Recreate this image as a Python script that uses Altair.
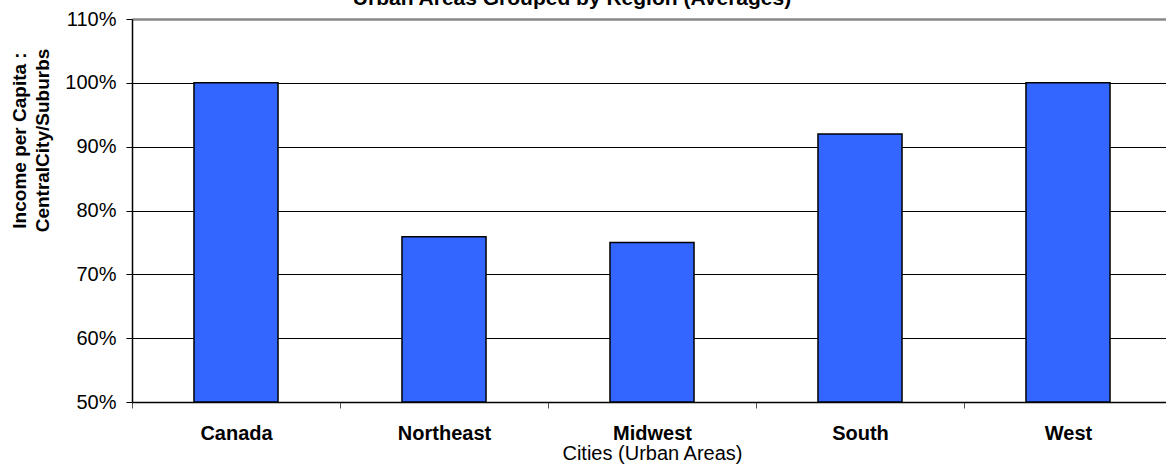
import altair as alt
import pandas as pd

# Central-city / suburb income ratio, averaged by region
regions = ["Canada", "Northeast", "Midwest", "South", "West"]
ratio_pct = [100.0, 75.9, 75.0, 92.0, 100.0]
y_ticks = [50, 60, 70, 80, 90, 100, 110]

chart_title = "Urban Areas Grouped by Region (Averages)"
y_title = ["Income per Capita :", "CentralCity/Suburbs"]
x_title = "Cities (Urban Areas)"

FONT = "Liberation Sans, Arial, sans-serif"
BAR_BLUE = "#3366FF"

df = pd.DataFrame({"region": regions, "ratio": ratio_pct})

x_enc = alt.X(
    "region:N",
    sort=regions,
    scale=alt.Scale(range=[0, 1040], paddingInner=0, paddingOuter=0),
    axis=alt.Axis(
        title=x_title,
        titleFont=FONT,
        titleFontSize=20,
        titleFontWeight="normal",
        titleColor="black",
        titleBaseline="alphabetic",
        titleY=57,
        labelFont=FONT,
        labelFontSize=20,
        labelFontWeight="bold",
        labelColor="black",
        labelAngle=0,
        labelBaseline="alphabetic",
        labelPadding=31,
        tickBand="extent",
        tickSize=6,
        tickColor="#555555",
        domainColor="black",
        domainWidth=1.5,
        grid=False,
    ),
)

y_enc = alt.Y(
    "ratio:Q",
    scale=alt.Scale(domain=[50, 110], nice=False, zero=False, clamp=True),
    axis=alt.Axis(
        values=y_ticks,
        labelExpr="datum.value + '%'",
        title=y_title,
        titleFont=FONT,
        titleFontSize=19,
        titleFontWeight="bold",
        titleColor="black",
        titleAngle=-90,
        titleAlign="center",
        titleBaseline="middle",
        titleLineHeight=23,
        titleX=-113,
        titleY=121,
        labelFont=FONT,
        labelFontSize=20,
        labelColor="black",
        labelPadding=10,
        tickSize=6,
        tickColor="black",
        domainColor="black",
        domainWidth=1.5,
        grid=True,
        gridColor={"condition": {"test": "datum.value > 105", "value": "#888888"}, "value": "black"},
        gridWidth={"condition": {"test": "datum.value > 105", "value": 2.5}, "value": 1},
    ),
)

bars = (
    alt.Chart(df)
    .mark_bar(
        width=alt.RelativeBandSize(0.404),
        color=BAR_BLUE,
        stroke="black",
        strokeWidth=1.5,
    )
    .encode(x=x_enc, y=y_enc, y2=alt.datum(50))
)

title_text = (
    alt.Chart(pd.DataFrame({"t": [chart_title]}))
    .mark_text(
        font=FONT,
        fontSize=21,
        fontWeight="bold",
        color="black",
        align="center",
        baseline="alphabetic",
    )
    .encode(text="t:N", x=alt.value(440), y=alt.value(-14))
)

chart = (
    alt.layer(bars, title_text)
    .properties(
        width=1034,
        height=383,
        autosize=alt.AutoSizeParams(type="none"),
        padding={"left": 132, "top": 19, "right": 0, "bottom": 66},
        background="white",
    )
    .configure_view(stroke=None)
)

chart.save("out.html", embed_options={"renderer": "svg", "actions": False})
